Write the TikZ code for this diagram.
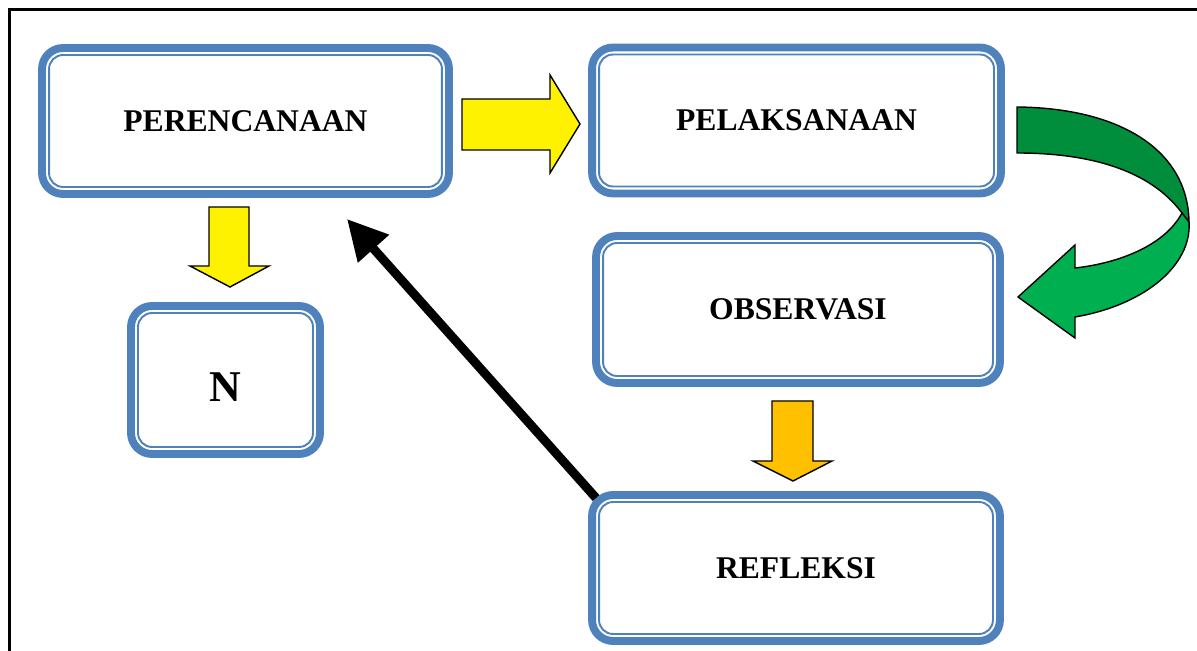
\documentclass[tikz,border=0pt]{standalone}
\usepackage{fontspec}
\setmainfont{Liberation Serif}
\usetikzlibrary{arrows.meta}
\definecolor{stageblue}{RGB}{79,129,189}
\definecolor{darkgreen}{RGB}{0,142,60}
\definecolor{lightgreen}{RGB}{0,176,80}
\definecolor{amber}{RGB}{255,192,0}
\tikzstyle{stage} = [draw=stageblue, line width=4.5pt, rounded corners=0.42cm,
    inner sep=0pt, outer sep=0pt, font=\bfseries\fontsize{18}{22}\selectfont]
\tikzstyle{stageline} = [draw=stageblue, line width=1.1pt, rounded corners=0.28cm]
\tikzstyle{blockarrow} = [draw=black, line width=0.8pt, line join=miter]

\begin{document}
\begin{tikzpicture}[x=0.02cm, y=-0.02cm]
\useasboundingbox (0,0) rectangle (1197,651);
\draw[line width=1.4pt] (9.5,651) -- (9.5,9.5) -- (1197,9.5);

\node[stage, minimum width=8.14cm, minimum height=2.92cm] (plan) at (245.5,121) {PERENCANAAN};
\node[stage, minimum width=8.18cm, minimum height=2.92cm] (act) at (796.5,120.5) {PELAKSANAAN};
\node[stage, minimum width=8.08cm, minimum height=2.94cm] (obs) at (798,309.5) {OBSERVASI};
\node[stage, minimum width=8.16cm, minimum height=2.92cm] (ref) at (796,568) {REFLEKSI};
\node[stage, minimum width=3.78cm, minimum height=2.96cm,
    font=\bfseries\fontsize{25}{30}\selectfont, text height=25pt, text depth=0pt] (nbox) at (225.5,380) {N};
\foreach \name in {plan,act,obs,ref,nbox}{
    \draw[stageline] ([xshift=0.14cm,yshift=-0.14cm]\name.north west)
        rectangle ([xshift=-0.14cm,yshift=0.14cm]\name.south east);
}

% block arrows
\draw[blockarrow, fill=yellow] (462,99) -- (550,99) -- (550,75) -- (580,124)
    -- (550,173) -- (550,150) -- (462,150) -- cycle;
\draw[blockarrow, fill=yellow] (209,207) -- (249,207) -- (249,266) -- (269,266)
    -- (230,287) -- (190,266) -- (209,266) -- cycle;
\draw[blockarrow, fill=amber] (772,401) -- (813,401) -- (813,461) -- (832,461)
    -- (793,481) -- (753,461) -- (772,461) -- cycle;

% curved arrow
\draw[blockarrow, fill=darkgreen] (1017,107) .. controls (1120,108) and (1188,150) .. (1189,222)
    -- (1182,213) .. controls (1150,170) and (1090,153) .. (1017,153) -- cycle;
\draw[blockarrow, fill=lightgreen] (1182,213) .. controls (1165,245) and (1120,263) .. (1075,268)
    -- (1075,245) -- (1018,297) -- (1075,338) -- (1075,317)
    .. controls (1145,305) and (1192,265) .. (1189,222) -- cycle;

% back to planning
\coordinate (back) at (347,219);
\draw[line width=5.1pt, -{Triangle[length=22.7pt,width=22.5pt]}] ([xshift=0.08cm,yshift=-0.06cm]ref.north west) -- (back);
\end{tikzpicture}
\end{document}
